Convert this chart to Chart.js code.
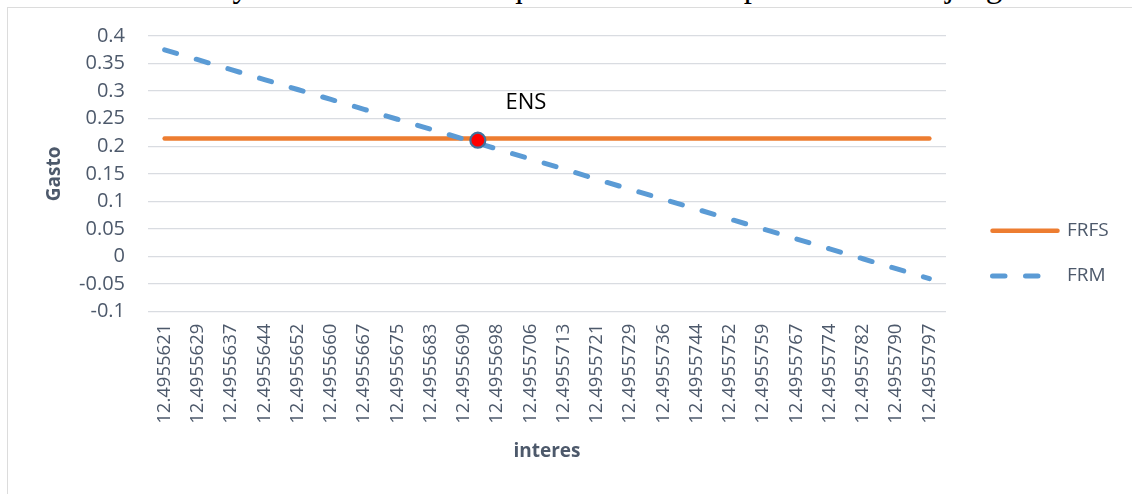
<!DOCTYPE html>
<html>
<head>
<meta charset="utf-8">
<script src="https://cdn.jsdelivr.net/npm/chart.js@4.4.1/dist/chart.umd.min.js"></script>
<style>
  html, body { margin: 0; padding: 0; background: #fff; }
  body { width: 1132px; height: 494px; overflow: hidden; position: relative; }
  #caption {
    position: absolute; left: 7px; top: -30px;
    font-family: "Liberation Serif", "Times New Roman", serif;
    font-size: 33px; line-height: 33px; white-space: nowrap; color: #000;
  }
  #frame {
    position: absolute; left: 7px; top: 7px; width: 1200px; height: 600px;
    border: 1.5px solid #dcdcdc; box-sizing: border-box;
  }
  #wrap { position: absolute; left: 0; top: 0; width: 1132px; height: 494px; }
</style>
</head>
<body>
<div id="caption">Gráfica 4. Gasto y tasa de interés en equilibrio de Nash perfecto en subjuegos</div>
<div id="frame"></div>
<div id="wrap"><canvas id="c" width="1132" height="494"></canvas></div>
<script>
// Interest-rate categories (x axis)
const interes = [
  '12.4955621', '12.4955629', '12.4955637', '12.4955644', '12.4955652',
  '12.4955660', '12.4955667', '12.4955675', '12.4955683', '12.4955690',
  '12.4955698', '12.4955706', '12.4955713', '12.4955721', '12.4955729',
  '12.4955736', '12.4955744', '12.4955752', '12.4955759', '12.4955767',
  '12.4955774', '12.4955782', '12.4955790', '12.4955797'
];

// FRFS: flat spending response
const frfs = [
  0.214, 0.214, 0.214, 0.214, 0.214, 0.214, 0.214, 0.214, 0.214, 0.214,
  0.214, 0.214, 0.214, 0.214, 0.214, 0.214, 0.214, 0.214, 0.214, 0.214,
  0.214, 0.214, 0.214, 0.214
];

// FRM: decreasing response
const frm = [
  0.375, 0.357, 0.339, 0.321, 0.303, 0.285, 0.267, 0.249, 0.231, 0.213,
  0.195, 0.177, 0.159, 0.140, 0.122, 0.104, 0.086, 0.068, 0.050, 0.032,
  0.014, -0.004, -0.022, -0.040
];

// ENS: equilibrium point (x in category-index units along the interest axis)
const ensX = [9.42];
const ensY = [0.211];
const ensLabel = 'ENS';

const axisText = '#4d596b';
const gridColor = '#d9dce1';

const overlay = {
  id: 'overlay',
  afterDraw(chart) {
    const ctx = chart.ctx;
    const area = chart.chartArea;
    const xs = chart.scales.xe, ys = chart.scales.y;

    // ENS annotation near the equilibrium point
    const px = xs.getPixelForValue(ensX[0]);
    const py = ys.getPixelForValue(ensY[0]);
    ctx.save();
    ctx.font = '22px "Open Sans"';
    ctx.fillStyle = '#000';
    ctx.textAlign = 'center';
    ctx.textBaseline = 'middle';
    ctx.fillText(ensLabel, px + 48, py - 37);
    ctx.restore();

    // Legend on the right
    const items = [
      { ds: chart.data.datasets[2], y: 230.7, end: 1060 },
      { ds: chart.data.datasets[1], y: 276, end: 1042 }
    ];
    const x0 = area.right + 44;
    items.forEach(it => {
      ctx.save();
      ctx.strokeStyle = it.ds.borderColor;
      ctx.lineWidth = it.ds.borderWidth;
      ctx.lineCap = 'round';
      ctx.setLineDash(it.ds.borderDash || []);
      ctx.beginPath();
      ctx.moveTo(x0 + 2.5, it.y);
      ctx.lineTo(it.end - 2.5, it.y);
      ctx.stroke();
      ctx.setLineDash([]);
      ctx.font = '19px "Open Sans"';
      ctx.fillStyle = axisText;
      ctx.textAlign = 'left';
      ctx.textBaseline = 'middle';
      ctx.fillText(it.ds.label, 1067, it.y);
      ctx.restore();
    });
  }
};

new Chart(document.getElementById('c'), {
  type: 'line',
  data: {
    labels: interes,
    datasets: [
      {
        label: 'ENS', xAxisID: 'xe', showLine: false, order: 0,
        data: ensX.map((x, i) => ({ x, y: ensY[i] })),
        pointRadius: 7.5, pointHoverRadius: 7.5,
        pointBackgroundColor: '#ff0000', pointBorderColor: '#41719c', pointBorderWidth: 2.2
      },
      {
        label: 'FRM', data: frm, order: 1,
        borderColor: '#5b9bd5', borderWidth: 5, borderDash: [12.5, 20.5],
        borderCapStyle: 'round', pointRadius: 0, tension: 0
      },
      {
        label: 'FRFS', data: frfs, order: 2,
        borderColor: '#ed7d31', borderWidth: 4.5,
        borderCapStyle: 'round', pointRadius: 0, tension: 0
      }
    ]
  },
  options: {
    responsive: false,
    animation: false,
    devicePixelRatio: 1,
    layout: { padding: { top: 36, right: 186, left: 0, bottom: 0 } },
    plugins: { legend: { display: false }, tooltip: { enabled: false } },
    scales: {
      x: {
        offset: true,
        grid: { display: false, drawTicks: false },
        border: { display: false },
        ticks: {
          autoSkip: false, minRotation: 90, maxRotation: 90, padding: 12,
          color: axisText, font: { family: 'Open Sans', size: 18.5 }
        },
        title: {
          display: true, text: 'interes', color: axisText,
          font: { family: 'Open Sans', size: 19, weight: 'bold' },
          padding: { top: 0, bottom: 30.6 }
        },
        afterFit(s) { s.height = 494 - 311.7; }
      },
      // index-based companion axis spanning the same category bands
      xe: {
        type: 'linear', position: 'top', display: false,
        min: -0.5, max: interes.length - 0.5
      },
      y: {
        min: -0.1, max: 0.4,
        grid: { color: gridColor, lineWidth: 1.3, drawTicks: false },
        border: { display: false },
        ticks: {
          stepSize: 0.05, padding: 23, color: axisText,
          font: { family: 'Open Sans', size: 20 },
          callback: v => String(Math.round(v * 100) / 100)
        },
        title: {
          display: true, text: 'Gasto', color: axisText,
          font: { family: 'Open Sans', size: 19, weight: 'bold' },
          padding: { top: 43.6, bottom: 0 }
        },
        afterFit(s) { s.width = 148; }
      }
    }
  },
  plugins: [overlay]
});
</script>
</body>
</html>
